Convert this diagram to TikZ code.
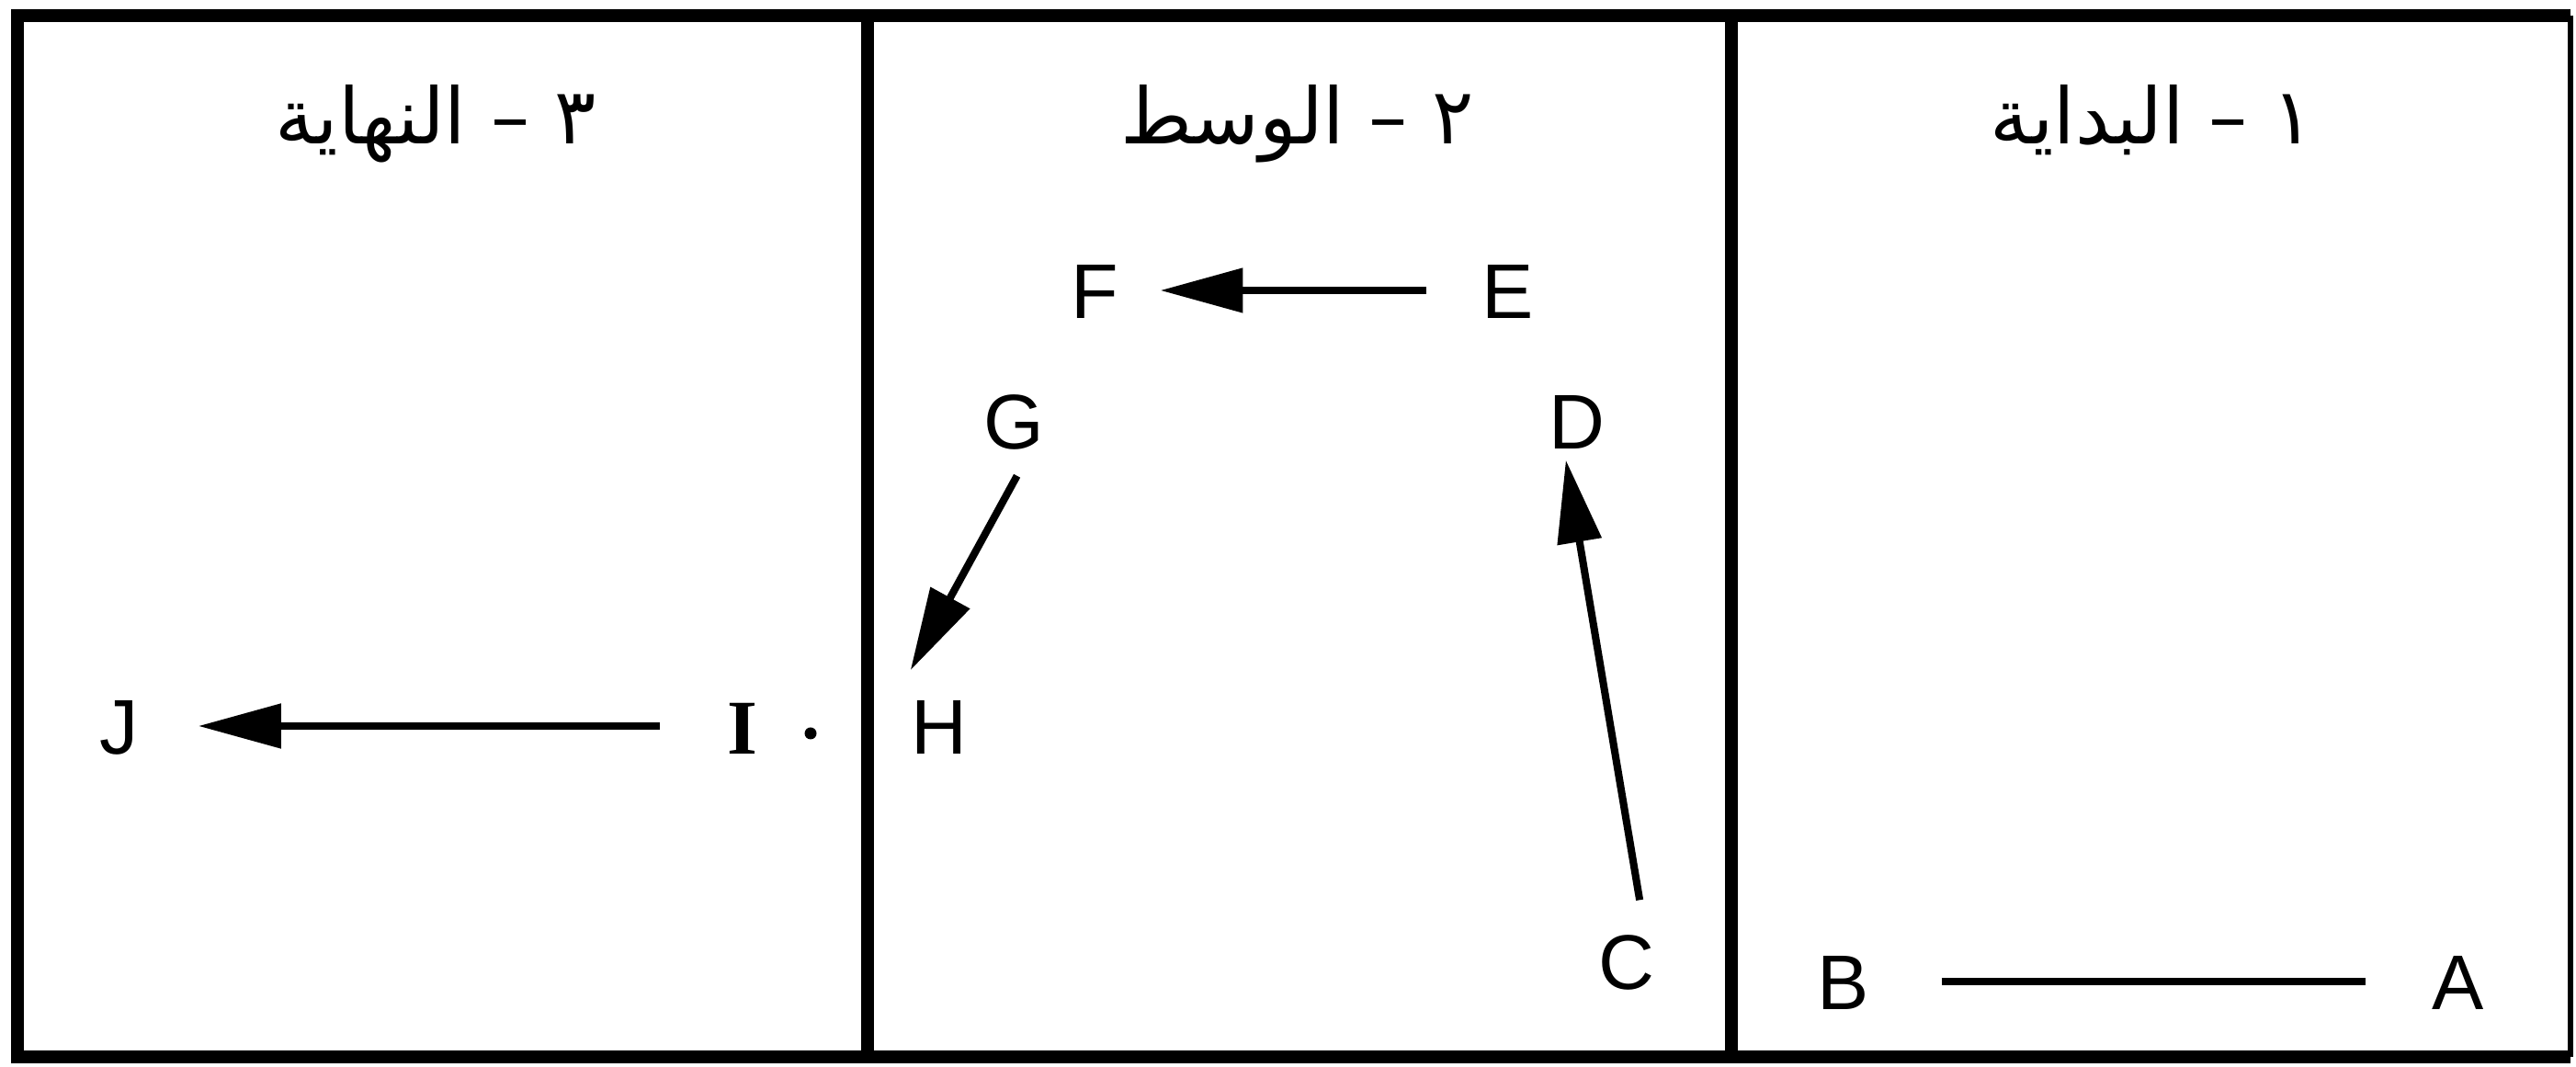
\documentclass[tikz,border=0pt]{standalone}
\usepackage{fontspec}
\setsansfont{Liberation Sans}
\newfontfamily\arabicfont[Script=Arabic]{DejaVu Sans}
\newfontfamily\romanI{Liberation Serif}
\TeXXeTstate=1
\usetikzlibrary{arrows.meta,positioning,calc}

\begin{document}
\begin{tikzpicture}[
  lbl/.style={inner sep=0pt,text height=0.62cm,text depth=0pt,
    font=\sffamily\fontsize{24}{24}\selectfont},
  ttl/.style={anchor=base,inner sep=0pt,
    font=\arabicfont\fontsize{24}{24}\selectfont},
  arr/.style={line width=2.3pt,-{Triangle[length=0.9cm,width=0.47cm]}},
  seg/.style={line width=2.3pt}]
\useasboundingbox (0,0) rectangle (28.03,11.61);
% frame and the three panels
\draw[line width=4pt] (27.97,11.44) -- (0.19,11.44) -- (0.19,0.11) -- (27.97,0.11);
\draw[line width=1.8pt] (27.97,11.44) -- (27.97,0.11);
\draw[line width=4pt] (9.44,11.44) -- (9.44,0.11);
\draw[line width=4pt] (18.84,11.44) -- (18.84,0.11);
% titles
\node[ttl] (t3) at (4.74,10.04) {\beginR ٣ – النهاية\endR};
\node[ttl] (t2) at (14.12,10.04) {\beginR ٢ – الوسط\endR};
\node[ttl] (t1) at (23.42,10.04) {\beginR ١ – البداية\endR};
% points
\node[lbl] (A) at (26.75,0.93) {A};
\node[lbl] (B) at (20.06,0.93) {B};
\node[lbl] (C) at (17.70,1.15) {C};
\node[lbl] (D) at (17.16,7.03) {D};
\node[lbl] (E) at (16.41,8.45) {E};
\node[lbl] (F) at (11.91,8.45) {F};
\node[lbl] (G) at (11.03,7.03) {G};
\node[lbl] (H) at (10.22,3.71) {H};
\node[lbl,font=\romanI\bfseries\fontsize{24}{24}\selectfont] (I) at (8.08,3.71) {I};
\node[lbl] (J) at (1.30,3.71) {J};
\fill ([xshift=0.74cm,yshift=-0.08cm]I.center) circle (0.065cm);
% moves
\draw[seg,shorten <=0.78cm,shorten >=0.72cm] (B.east) -- (A.west);
\draw[arr,shorten <=0.355cm,shorten >=0.11cm] ([xshift=0.2cm]C.north) -- ([xshift=-0.14cm]D.south);
\draw[arr,shorten <=0.6cm,shorten >=0.45cm] (E.west) -- (F.east);
\draw[arr,shorten <=0.32cm,shorten >=0.33cm] ([xshift=0.19cm]G.south) -- ([xshift=-0.16cm]H.north west);
\draw[arr,shorten <=0.73cm,shorten >=0.64cm] (I.west) -- (J.east);
\end{tikzpicture}
\end{document}
